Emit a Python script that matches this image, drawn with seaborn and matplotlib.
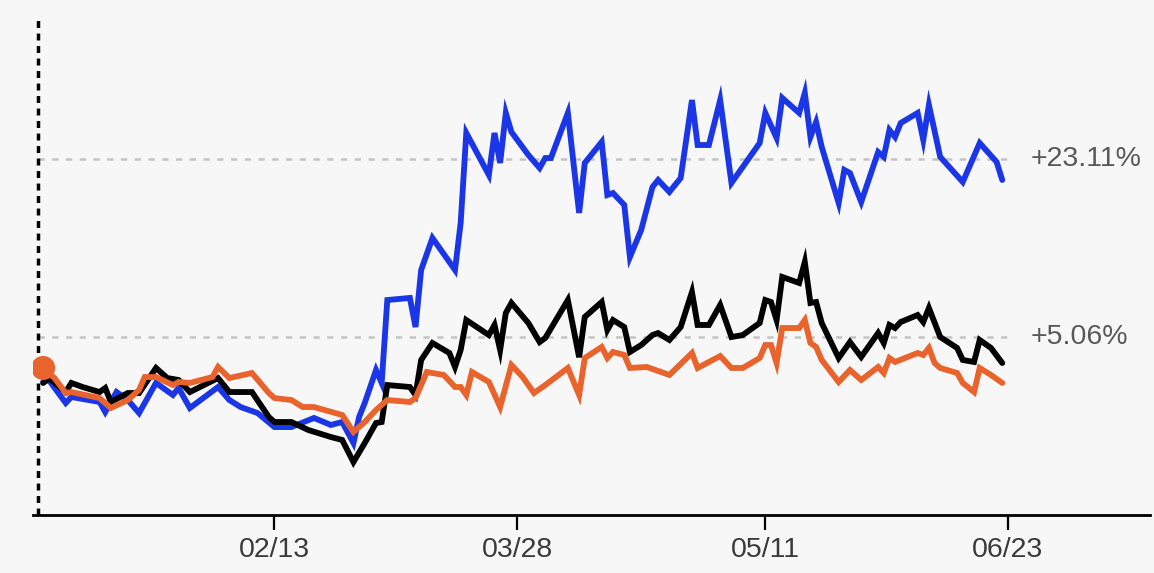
"""
Three-line performance chart (blue / black / orange) with two reference levels.
"""

import pandas as pd
import matplotlib
matplotlib.use('Agg')
import matplotlib.pyplot as plt
import seaborn as sns

# turning points of each line: days after 2023-01-01 and % change
blue_days = [2, 3, 6, 7, 12, 13, 15, 17, 19, 22, 25, 26, 28, 33, 35, 37, 40, 43, 46, 50,
             53, 55, 57, 58, 59, 61, 62, 63, 67, 68, 69, 71, 75, 76, 77, 81, 82, 83, 84, 85,
             88, 90, 91, 92, 95, 97, 98, 101, 102, 103, 105, 106, 108, 110, 111, 113, 115, 117, 118, 120,
             122, 124, 129, 130, 132, 133, 134, 136, 137, 138, 139, 140, 143, 144, 145, 147, 150, 151, 152, 153,
             154, 157, 158, 159, 161, 165, 168, 171, 172]
blue_pct = [0.53, 0.73, -1.60, -0.99, -1.50, -2.52, -0.49, -1.30, -2.62, 0.43,
            -0.79, -0.08, -2.11, 0.02, -1.30, -2.01, -2.62, -4.04, -4.04, -3.12,
            -3.83, -3.53, -5.66, -3.02, -1.60, 1.74, 0.43, 8.84, 9.05, 6.10,
            11.89, 15.13, 11.89, 16.65, 25.78, 21.52, 25.78, 22.74, 27.81, 25.88,
            23.55, 22.23, 23.24, 23.24, 27.81, 17.67, 22.74, 24.87, 19.49, 19.69,
            18.48, 13.20, 15.94, 20.30, 21.01, 19.80, 21.21, 29.12, 24.56, 24.56,
            29.12, 20.71, 24.76, 27.81, 25.27, 29.33, 28.82, 27.81, 29.84, 25.37,
            26.89, 24.36, 18.68, 22.03, 21.72, 18.78, 23.85, 23.35, 26.08, 25.37,
            26.79, 27.81, 25.07, 28.62, 23.35, 20.81, 24.76, 22.84, 21.01]

black_days = [2, 3, 6, 7, 9, 12, 13, 14, 17, 19, 22, 24, 26, 28, 33, 35, 39, 42, 43, 46,
              49, 53, 55, 57, 59, 61, 62, 63, 67, 68, 69, 71, 74, 75, 76, 77, 81, 82, 83, 84,
              85, 88, 90, 91, 95, 97, 98, 101, 102, 103, 105, 106, 108, 110, 111, 113, 115, 117, 118, 120,
              122, 124, 126, 129, 130, 131, 132, 133, 136, 137, 138, 139, 140, 143, 145, 147, 150, 151, 152, 153,
              154, 157, 158, 159, 161, 164, 165, 167, 168, 170, 172]
black_pct = [0.43, 0.93, -0.49, 0.43, 0.02, -0.49, -0.08, -1.50, -0.59, -0.59,
             1.95, 0.93, 0.73, -0.49, 0.93, -0.49, -0.49, -3.02, -3.53, -3.53,
             -4.34, -5.05, -5.35, -7.59, -5.66, -3.63, -3.53, 0.22, 0.02, -0.79,
             2.76, 4.48, 3.47, 2.05, 3.77, 6.81, 5.29, 6.31, 3.77, 7.52,
             8.54, 6.51, 4.58, 4.99, 8.84, 3.04, 7.12, 8.64, 5.80, 6.81,
             6.10, 3.57, 4.28, 5.29, 5.49, 4.79, 6.10, 9.65, 6.31, 6.31,
             8.34, 5.09, 5.29, 6.51, 8.84, 8.64, 6.81, 11.18, 10.57, 12.70,
             8.54, 8.64, 6.51, 2.96, 4.58, 3.07, 5.50, 4.48, 6.31, 6.00,
             6.61, 7.32, 6.61, 8.03, 5.09, 3.98, 2.76, 2.56, 4.79, 3.98, 2.45]

orange_days = [2, 3, 4, 6, 7, 12, 14, 17, 19, 20, 22, 25, 26, 28, 32, 33, 35, 39, 42, 43,
               46, 48, 50, 55, 57, 59, 61, 63, 67, 68, 70, 73, 75, 76, 77, 78, 81, 83, 85, 87,
               89, 91, 95, 97, 98, 101, 102, 103, 105, 106, 109, 113, 117, 118, 122, 124, 126, 129, 130, 131,
               132, 133, 136, 137, 138, 139, 140, 143, 145, 147, 150, 151, 152, 153, 157, 158, 159, 160, 161, 164,
               165, 167, 168, 170, 172]
orange_pct = [1.95, 1.44, 0.93, -0.59, -0.49, -1.10, -2.11, -1.30, -0.28, 1.03,
              1.03, 0.22, 0.53, 0.43, 1.03, 2.05, 0.93, 1.44, -0.59, -1.10,
              -1.30, -2.01, -2.01, -2.82, -4.54, -3.53, -2.31, -1.30, -1.50, -1.10,
              1.54, 1.24, 0.02, 0.02, -0.79, 1.54, 0.53, -2.01, 2.25, 1.03,
              -0.59, 0.22, 1.95, -0.79, 2.96, 4.08, 2.96, 3.57, 3.27, 1.95,
              2.05, 1.24, 3.47, 1.95, 3.16, 1.95, 1.95, 2.96, 4.28, 4.28,
              2.45, 6.00, 6.00, 6.81, 4.48, 4.08, 2.76, 0.53, 1.74, 0.73,
              2.05, 1.44, 2.96, 2.56, 3.47, 3.27, 3.98, 2.45, 1.95, 1.44,
              0.43, -0.49, 1.95, 1.24, 0.43]

series_names = ['blue', 'black', 'orange']
series_colors = ['#1b36e6', '#000000', '#e8642c']

tick_dates = ['2023-02-13', '2023-03-28', '2023-05-11', '2023-06-23']
tick_labels = ['02/13', '03/28', '05/11', '06/23']

ref_levels = [23.11, 5.06]
ref_labels = ['+23.11%', '+5.06%']

BG = '#f7f7f7'
base = pd.Timestamp('2023-01-01')


def to_dates(days):
    return base + pd.to_timedelta(days, unit='D')


# long-form table for seaborn
frames = []
for name, days, vals in zip(series_names,
                            [blue_days, black_days, orange_days],
                            [blue_pct, black_pct, orange_pct]):
    frames.append(pd.DataFrame({'date': to_dates(days), 'pct': vals, 'series': name}))
df = pd.concat(frames, ignore_index=True)

sns.set_style('white')
plt.rcParams['font.family'] = ['Liberation Sans', 'DejaVu Sans']

fig = plt.figure(figsize=(11.54, 5.73), dpi=100)
fig.patch.set_facecolor(BG)
ax = fig.add_axes([0.0286, 0.1012, 0.968, 0.8674])
ax.set_facecolor(BG)

start = df['date'].min()
end = pd.Timestamp(tick_dates[-1])

# dashed reference levels
ax.hlines(ref_levels, start - pd.Timedelta(days=1), end, colors='#c4c4c4',
          linestyles=(0, (2.5, 3.0)), linewidth=1.8, zorder=1)

sns.lineplot(data=df, x='date', y='pct', hue='series', hue_order=series_names,
             palette=dict(zip(series_names, series_colors)), estimator=None,
             legend=False, ax=ax, zorder=3)
# seaborn keeps its own default width, so thicken the series lines here
for line in ax.get_lines():
    line.set_linewidth(4.2)
    line.set_solid_joinstyle('miter')

# orange start marker
first = df[df['series'] == 'orange'].iloc[0]
sns.scatterplot(x=[first['date']], y=[first['pct']], s=300, color=series_colors[2],
                edgecolor='none', linewidth=0, ax=ax, zorder=4, legend=False)

# dotted start line
ax.axvline(start - pd.Timedelta(days=1), color='black', linestyle=(0, (2, 1.6)),
           linewidth=2.5, zorder=2)

for lev, lab in zip(ref_levels, ref_labels):
    ax.text(end + pd.Timedelta(days=4), lev, lab, ha='left', va='center',
            fontsize=20.5, color='#585858')

ax.set_xlim(base + pd.Timedelta(days=0.2), base + pd.Timedelta(days=198.2))
ax.set_ylim(-12.96, 37.44)

ax.set_xticks(pd.to_datetime(tick_dates))
ax.set_xticklabels(tick_labels)
ax.set_yticks([])
ax.tick_params(axis='x', length=11, width=1.6, color='black', labelsize=20.5,
               labelcolor='#3a3a3a', pad=5, bottom=True)
ax.set_xlabel('')
ax.set_ylabel('')

for side in ['top', 'right', 'left']:
    ax.spines[side].set_visible(False)
ax.spines['bottom'].set_color('black')
ax.spines['bottom'].set_linewidth(2)

fig.savefig('out.png', dpi=100, facecolor=BG)
